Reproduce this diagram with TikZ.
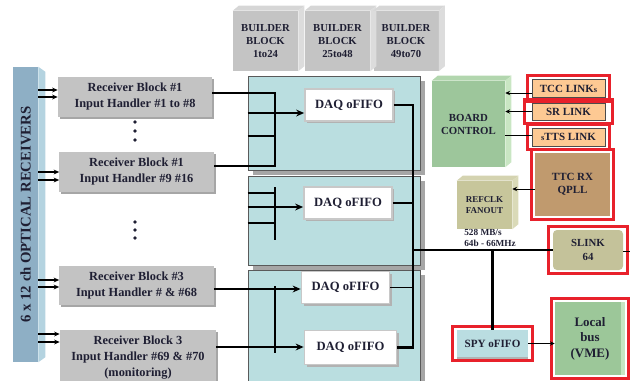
\documentclass[tikz,border=0pt]{standalone}
\usepackage{fontspec}
\setmainfont{Liberation Serif}
\usetikzlibrary{arrows.meta,positioning,calc,shadows}
\definecolor{ink}{HTML}{1F1F33}
\definecolor{rxgray}{HTML}{C3C3C3}
\definecolor{optblue}{HTML}{8EAFC5}
\definecolor{optside}{HTML}{B4D3E0}
\definecolor{bbface}{HTML}{C4C4C4}
\definecolor{bbtop}{HTML}{D6D6D6}
\definecolor{bbside}{HTML}{DCDCDC}
\definecolor{panelteal}{HTML}{BADEE0}
\definecolor{panelline}{HTML}{5A5A5A}
\definecolor{panelshade}{HTML}{A6A6A6}
\definecolor{daqframe}{HTML}{C8C8C8}
\definecolor{boardgreen}{HTML}{9DC69B}
\definecolor{boardtop}{HTML}{B2D6AE}
\definecolor{boardside}{HTML}{C9E6C3}
\definecolor{linkorange}{HTML}{FDC993}
\definecolor{qpllbrown}{HTML}{C09A6E}
\definecolor{refolive}{HTML}{C7C69B}
\definecolor{reftop}{HTML}{D4D3B0}
\definecolor{refside}{HTML}{DADAB8}
\definecolor{slinkolive}{HTML}{C4C29A}
\definecolor{spyblue}{HTML}{BADDE1}
\definecolor{vmegreen}{HTML}{9CC799}
\definecolor{vmelight}{HTML}{C6E4C2}
\definecolor{redframe}{HTML}{E8212B}

\tikzset{
  txt/.style={text=ink, align=center, inner sep=0pt},
  optbar/.style={txt, fill=optblue, minimum width=6.25mm, minimum height=73.75mm,
    font=\bfseries\fontsize{10.5}{12}\selectfont},
  rxblock/.style={txt, fill=rxgray, minimum width=38.5mm, minimum height=10mm,
    font=\bfseries\fontsize{8.8}{11.4}\selectfont,
    drop shadow={shadow xshift=0.5mm, shadow yshift=-0.5mm, fill=gray!70, opacity=1}},
  bblock/.style={txt, fill=bbface, minimum width=16.25mm, minimum height=15mm,
    font=\bfseries\fontsize{7.6}{9.4}\selectfont},
  panel/.style={fill=panelteal, draw=panelline, line width=0.6pt, minimum width=43mm,
    drop shadow={shadow xshift=1.3mm, shadow yshift=-1.2mm, fill=panelshade, opacity=1}},
  daq/.style={txt, fill=white, draw=daqframe, line width=1.2pt, minimum width=22mm,
    minimum height=8mm, font=\bfseries\fontsize{9}{11}\selectfont,
    drop shadow={shadow xshift=0.6mm, shadow yshift=-0.6mm, fill=gray!60, opacity=1}},
  board/.style={txt, fill=boardgreen, minimum width=18.25mm, minimum height=21.5mm,
    font=\bfseries\fontsize{7.7}{9.2}\selectfont},
  linkbox/.style={txt, fill=linkorange, draw=gray!60!black, line width=0.5pt,
    minimum width=18.25mm, minimum height=4.5mm, font=\bfseries\fontsize{7.8}{9}\selectfont},
  qpllbox/.style={txt, fill=qpllbrown, minimum width=18.75mm, minimum height=15.75mm,
    font=\bfseries\fontsize{7.8}{9.6}\selectfont},
  refbox/.style={txt, fill=refolive, minimum width=13.75mm, minimum height=12mm,
    font=\bfseries\fontsize{6.4}{8}\selectfont},
  slinkbox/.style={txt, fill=slinkolive, rounded corners=1mm, minimum width=17.5mm,
    minimum height=10mm, font=\bfseries\fontsize{7.7}{10.5}\selectfont},
  spybox/.style={txt, fill=spyblue, minimum width=17.75mm, minimum height=6.75mm,
    font=\bfseries\fontsize{7.9}{9}\selectfont,
    drop shadow={shadow xshift=0mm, shadow yshift=-0.5mm, fill=gray!60, opacity=1}},
  vmebox/.style={txt, fill=vmegreen, minimum width=17.5mm, minimum height=18.25mm,
    font=\bfseries\fontsize{9.2}{11}\selectfont},
  rate/.style={txt, align=left, font=\bfseries\fontsize{6.6}{7.8}\selectfont},
  bus/.style={line width=2.1pt, black},
  busthin/.style={line width=1.4pt, black},
  feed/.style={line width=1.1pt, black, -{Stealth[length=1.4mm,width=1.2mm]}},
  tobox/.style={-{Stealth[length=2mm,width=1.7mm]}},
  thinline/.style={line width=0.7pt, black},
  redbox/.style={draw=redframe, line width=2.1pt}
}

\begin{document}
\begin{tikzpicture}[x=0.25mm, y=-0.25mm]
  \useasboundingbox (0,0) rectangle (630,380);

  % Optical receivers
  \node[optbar] (optrx) at (25.5,214.5) {\rotatebox{90}{6 x 12 ch OPTICAL RECEIVERS}};
  \fill[optside] (optrx.north east) -- ++(7,5) -- ($(optrx.south east)+(7,-5)$)
    -- (optrx.south east) -- cycle;

  % Panels
  \node[panel, minimum height=23.5mm] (p1) at (334,123) {};
  \node[panel, minimum height=22.25mm] (p2) at (334,220.5) {};
  \node[panel, minimum height=30mm] (p3) at (334,330) {};

  % Builder blocks
  \node[bblock] (bb1) at (265.5,41) {BUILDER\\BLOCK\\1to24};
  \node[bblock] (bb2) at (337.5,41) {BUILDER\\BLOCK\\25to48};
  \node[bblock] (bb3) at (406,41) {BUILDER\\BLOCK\\49to70};

  % Board control and clock
  \node[board] (bc) at (468.5,124) {BOARD\\CONTROL};
  \node[refbox] (refclk) at (484.5,205) {REFCLK\\FANOUT};

  % Bevels
  \foreach \n/\tc/\sc in {bb1/bbtop/bbside, bb2/bbtop/bbside, bb3/bbtop/bbside,
      bc/boardtop/boardside, refclk/reftop/refside}{
    \fill[\tc] (\n.north west) -- ++(6,-5) -- ($(\n.north east)+(6,-5)$)
      -- (\n.north east) -- cycle;
    \fill[\sc] (\n.north east) -- ++(6,-5) -- ($(\n.south east)+(6,-5)$)
      -- (\n.south east) -- cycle;
  }

  % Receiver blocks
  \node[rxblock] (rb1) at (135,97) {Receiver Block \#1\\Input Handler \#1 to \#8};
  \node[rxblock] (rb2) at (136.5,172) {Receiver Block \#1\\Input Handler \#9 \#16};
  \node[rxblock, minimum height=9.75mm] (rb3) at (136.5,285.5)
    {Receiver Block \#3\\Input Handler \# \& \#68};
  \node[rxblock, minimum width=39mm, minimum height=13.75mm] (rb4) at (138,357.5)
    {Receiver Block 3\\Input Handler \#69 \& \#70\\(monitoring)};
  \foreach \y in {122,131,140,222,230,238}
    \fill[ink] (135,\y) circle (1.3pt);

  % Inputs
  \foreach \r/\ya/\yb in {rb1/90/97, rb2/172/180, rb3/280/287, rb4/334/342}{
    \draw[feed] (optrx.east |- 0,\ya) -- (\r.west |- 0,\ya);
    \draw[feed] (optrx.east |- 0,\yb) -- (\r.west |- 0,\yb);
  }

  % DAQ oFIFOs
  \node[daq] (d1) at (349,105) {DAQ oFIFO};
  \node[daq] (d2) at (348,203) {DAQ oFIFO};
  \node[daq] (d3) at (345.5,287.5) {DAQ oFIFO};
  \node[daq, minimum width=23mm, minimum height=8.5mm] (d4) at (350.5,347.5) {DAQ oFIFO};

  % Left buses
  \coordinate (lx) at (275,0);
  \draw[bus] (rb1.east |- 0,93) -- (lx |- 0,93) -- (lx |- 0,166) -- (rb2.east |- 0,166);
  \draw[bus, tobox] (p1.west |- 0,113) -- (d1.west |- 0,113);
  \draw[bus] (p1.west |- 0,136) -- (lx |- 0,136);
  \draw[bus] (lx |- 0,187) -- (lx |- 0,240);
  \draw[bus] (p2.west |- 0,193) -- (lx |- 0,193);
  \draw[bus, tobox] (p2.west |- 0,207) -- (d2.west |- 0,207);
  \draw[bus] (p2.west |- 0,223) -- (lx |- 0,223);
  \draw[bus] (lx |- 0,286) -- (lx |- 0,353);
  \draw[bus, tobox] (rb3.east |- 0,289) -- (d3.west |- 0,289);
  \draw[bus, tobox] (rb4.east |- 0,347) -- (d4.west |- 0,347);

  % Links
  \node[linkbox] (tcc) at (568.5,88.5) {TCC LINK{\fontsize{6}{7}\selectfont s}};
  \node[linkbox, minimum height=4.25mm] (sr) at (568.5,111.5) {SR LINK};
  \node[linkbox] (stts) at (568.5,137) {{\fontsize{6}{7}\selectfont s}TTS LINK};
  \node[qpllbox] (qpll) at (572.5,184.5) {TTC RX\\QPLL};
  \node[rate, anchor=north west] (mbps) at (464,229) {528 MB/s\\64b - 66MHz};
  \node[slinkbox] (slink) at (588,250) {SLINK\\64};
  \node[spybox] (spy) at (492.5,343.5) {SPY oFIFO};
  \node[vmebox] (vme) at (590,338.5) {Local\\bus\\(VME)};
  \fill[vmelight] ($(vme.north east)+(-4,0)$) rectangle (vme.south east);

  % Red frames
  \foreach \n/\dx in {tcc/4, sr/7, stts/4, qpll/3, slink/4, spy/4, vme/3}
    \draw[redbox] ($(\n.north west)+(-\dx,-3.5)$) rectangle ($(\n.south east)+(\dx,3.5)$);

  % Right bus
  \coordinate (rx) at (413,0);
  \draw[bus] (d1.east) -- (d1.east -| rx) -- (d4.east -| rx) -- (d4.east);
  \draw[busthin] (d2.east) -- (d2.east -| rx);
  \draw[busthin] (d3.east) -- (d3.east -| rx);
  \draw[bus] (rx |- slink.west) -- (slink.west);
  \draw[bus] (spy.north |- slink.west) -- (spy.north);
  \coordinate (slout) at (630,251);
  \draw[thinline] (slink.east |- slout) -- (slout);

  % Control links
  \draw[thinline, -{Stealth[length=1.2mm,width=1.1mm]}] (tcc.west |- 0,93) -- (bc.east |- 0,93);
  \draw[thinline, -{Stealth[length=1.2mm,width=1.1mm]}] (sr.west) -- (sr.west -| bc.east);
  \draw[thinline] (stts.west |- 0,135) -- (bc.east |- 0,135);
  \draw[thinline, -{Stealth[length=1.2mm,width=1.1mm]}] (qpll.west |- 0,189) -- (refclk.east |- 0,189);
  \draw[thinline, -{Stealth[length=1.2mm,width=1.1mm]}] (spy.east) -- (spy.east -| vme.west);
\end{tikzpicture}
\end{document}
